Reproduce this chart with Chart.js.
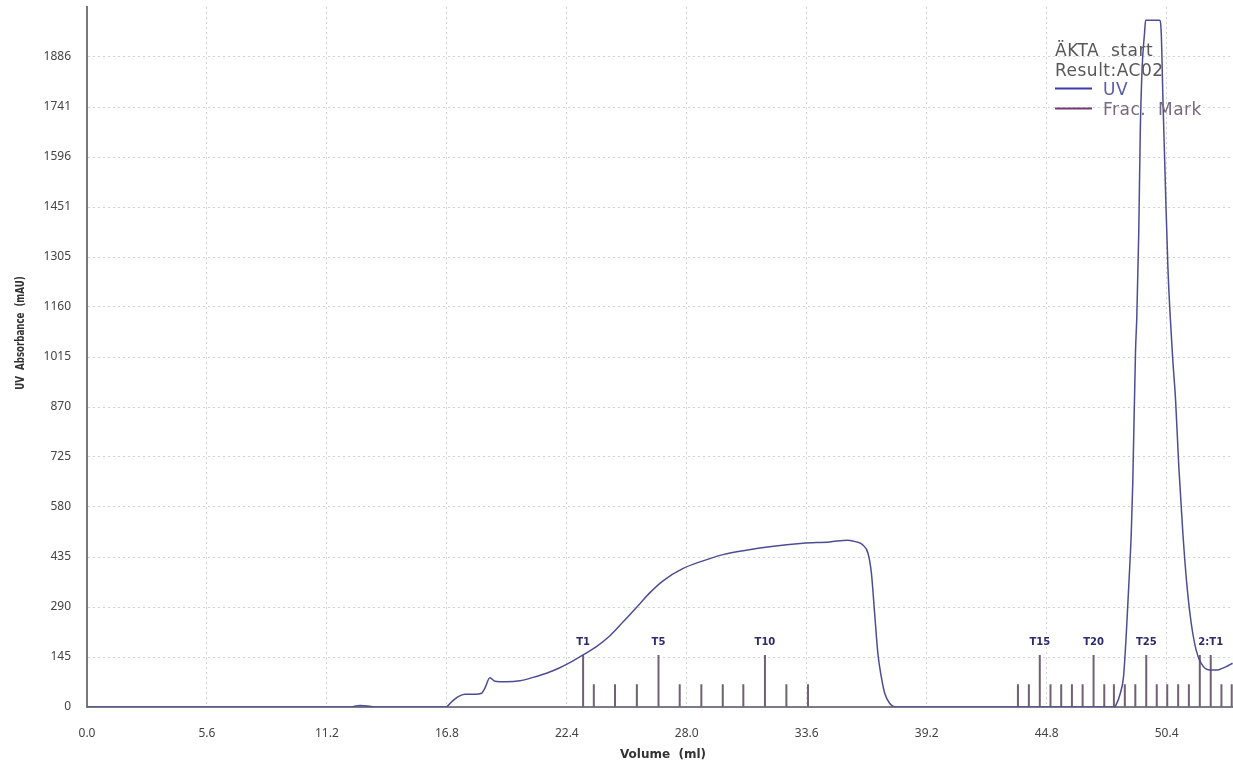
<!DOCTYPE html>
<html>
<head>
<meta charset="utf-8">
<script src="https://cdn.jsdelivr.net/npm/chart.js"></script>
<style>
  html, body { margin: 0; padding: 0; background: #fff; }
  #wrap { width: 1233px; height: 763px; }
</style>
</head>
<body>
<div id="wrap"><canvas id="chromatogram" width="1233" height="763"></canvas></div>
<script>
// UV curve (volume in ml, absorbance in mAU)
const uvVolume = [0, 12.3, 12.55, 12.75, 13.1, 13.5, 16.75, 17.02, 17.33, 17.64, 18.11, 18.42, 18.57, 18.81, 19.04, 19.58,
  20.21, 20.83, 21.45, 22.07, 22.69, 23.16, 23.78, 24.40, 25.03, 25.80, 26.27, 26.89, 27.83, 28.76, 29.69, 30.78, 31.86,
  33.42, 34.67, 35.52, 35.92, 36.22, 36.46, 36.62, 36.77, 36.92, 37.08, 37.24, 37.47, 37.78, 47.95, 48.04, 48.24, 48.39,
  48.52, 48.64, 48.75, 48.82, 48.95, 49.01, 49.10, 49.17, 49.26, 49.37, 49.42, 50.07, 50.15, 50.23, 50.35, 50.46, 50.57,
  50.69, 50.82, 50.97, 51.16, 51.34, 51.55, 51.78, 52.01, 52.40, 52.72, 53.18, 53.48];
const uvAbs = [0, 0, 3, 4, 3, 0, 0, 15, 30, 37, 37, 40, 54, 85, 75, 73,
  76, 86, 98, 114, 134, 151, 175, 206, 247, 299, 331, 366, 402, 424, 442, 455, 465,
  475, 479, 484, 479, 470, 446, 388, 272, 156, 88, 40, 11, 0, 0, 6, 40, 88,
  214, 359, 504, 649, 1035, 1132, 1375, 1665, 1857, 1955, 1992, 1992, 1955, 1760, 1499, 1277, 1132,
  1006, 890, 697, 504, 359, 243, 165, 127, 107, 107, 117, 127];

// Fraction marks
const fracVolume = [23.16, 23.66, 24.65, 25.67, 26.68, 27.67, 28.68, 29.68, 30.64, 31.65, 32.65, 33.66,
  43.46, 43.97, 44.48, 44.98, 45.48, 45.98, 46.48, 46.99, 47.49, 47.94, 48.45, 48.94, 49.45, 49.94,
  50.43, 50.94, 51.44, 51.95, 52.46, 52.96, 53.44];
const fracLabel = ['T1', '', '', '', 'T5', '', '', '', '', 'T10', '', '',
  '', '', 'T15', '', '', '', '', 'T20', '', '', '', '', 'T25', '',
  '', '', '', '', '2:T1', '', ''];
const fracTall = [1, 0, 0, 0, 1, 0, 0, 0, 0, 1, 0, 0,
  0, 0, 1, 0, 0, 0, 0, 1, 0, 0, 0, 0, 1, 0,
  0, 0, 0, 1, 1, 0, 0];

// Axis ticks
const xTickValues = [0, 5.6, 11.2, 16.8, 22.4, 28.0, 33.6, 39.2, 44.8, 50.4];
const yTickValues = [0, 145.05, 290.1, 435.15, 580.2, 725.25, 870.3, 1015.35, 1160.4, 1305.45, 1450.5, 1595.55, 1740.6, 1885.65];
const yTickLabels = ['0', '145', '290', '435', '580', '725', '870', '1015', '1160', '1305', '1451', '1596', '1741', '1886'];

const legendLines = ['ÄKTA  start', 'Result:AC02'];

const UV_COLOR = '#4d4d94';
const FRAC_COLOR = '#6f6272';
const TALL_H = 151, SHORT_H = 66;

// fraction marks as vertical segments separated by gaps
const fracPoints = [];
fracVolume.forEach((v, i) => {
  fracPoints.push({ x: v, y: 0 }, { x: v, y: fracTall[i] ? TALL_H : SHORT_H }, { x: v, y: null });
});

// texts drawn on top: titles, legend, fraction labels
const overlay = {
  id: 'overlay',
  afterDraw(chart) {
    const { ctx, scales: { x, y } } = chart;
    ctx.save();

    // fraction labels
    ctx.fillStyle = '#2b2b6e';
    ctx.font = 'bold 10px "DejaVu Sans"';
    ctx.textAlign = 'center';
    ctx.textBaseline = 'alphabetic';
    fracVolume.forEach((v, i) => {
      if (fracLabel[i]) ctx.fillText(fracLabel[i], x.getPixelForValue(v), y.getPixelForValue(TALL_H) - 10);
    });

    // axis titles
    ctx.fillStyle = '#333';
    ctx.font = 'bold 12px "DejaVu Sans"';
    ctx.textBaseline = 'middle';
    ctx.fillText('Volume  (ml)', 663, 755);
    ctx.save();
    ctx.translate(21, 333);
    ctx.rotate(-Math.PI / 2);
    ctx.scale(0.72, 1);
    ctx.font = 'bold 12px "DejaVu Sans"';
    ctx.fillText('UV  Absorbance  (mAU)', 0, 0);
    ctx.restore();

    // legend
    ctx.textAlign = 'left';
    ctx.textBaseline = 'alphabetic';
    ctx.font = '17px "DejaVu Sans"';
    ctx.letterSpacing = '0.5px';
    ctx.fillStyle = '#585858';
    ctx.fillText(legendLines[0], 1055, 56);
    ctx.fillText(legendLines[1], 1055, 76);
    ctx.lineWidth = 2;
    ctx.strokeStyle = '#3c3cae';
    ctx.beginPath(); ctx.moveTo(1055, 88.5); ctx.lineTo(1092, 88.5); ctx.stroke();
    ctx.fillStyle = '#5a5aaa';
    ctx.fillText('UV', 1103, 95);
    ctx.strokeStyle = '#6e3d6e';
    ctx.beginPath(); ctx.moveTo(1055, 108.5); ctx.lineTo(1092, 108.5); ctx.stroke();
    ctx.fillStyle = '#766a80';
    ctx.fillText('Frac.  Mark', 1103, 115);

    ctx.restore();
  }
};

new Chart(document.getElementById('chromatogram'), {
  type: 'line',
  data: {
    datasets: [
      {
        label: 'UV',
        data: uvVolume.map((v, i) => ({ x: v, y: uvAbs[i] })),
        borderColor: UV_COLOR,
        borderWidth: 1.5,
        pointRadius: 0,
        cubicInterpolationMode: 'monotone',
        fill: false
      },
      {
        label: 'Frac. Mark',
        data: fracPoints,
        borderColor: FRAC_COLOR,
        borderWidth: 2,
        pointRadius: 0,
        spanGaps: false,
        tension: 0
      }
    ]
  },
  options: {
    responsive: false,
    animation: false,
    layout: { padding: { top: 7, right: 0, left: 0, bottom: 0 } },
    plugins: { legend: { display: false }, tooltip: { enabled: false } },
    scales: {
      x: {
        type: 'linear',
        min: 0,
        max: 53.5,
        afterBuildTicks: s => { s.ticks = xTickValues.map(v => ({ value: v })); },
        afterFit: s => { s.height = 56; s.paddingLeft = 0; s.paddingRight = 0; },
        ticks: {
          padding: 19,
          color: '#444',
          font: { family: 'Noto Sans', size: 12 },
          callback: v => v.toFixed(1),
          maxRotation: 0
        },
        grid: { color: '#d2d2d2', lineWidth: 1, drawTicks: false },
        border: { display: true, color: '#7c7b8a', width: 2, dash: [2, 3] }
      },
      y: {
        min: 0,
        max: 2030.7,
        afterBuildTicks: s => { s.ticks = yTickValues.map(v => ({ value: v })); },
        afterFit: s => { s.width = 87; s.paddingTop = 0; s.paddingBottom = 0; },
        ticks: {
          padding: 16,
          color: '#444',
          font: { family: 'Noto Sans', size: 12 },
          callback: (v, i) => yTickLabels[i]
        },
        grid: { color: '#d2d2d2', lineWidth: 1, drawTicks: false },
        border: { display: true, color: '#7a7a7a', width: 2, dash: [2, 3] }
      }
    }
  },
  plugins: [overlay]
});
</script>
</body>
</html>
